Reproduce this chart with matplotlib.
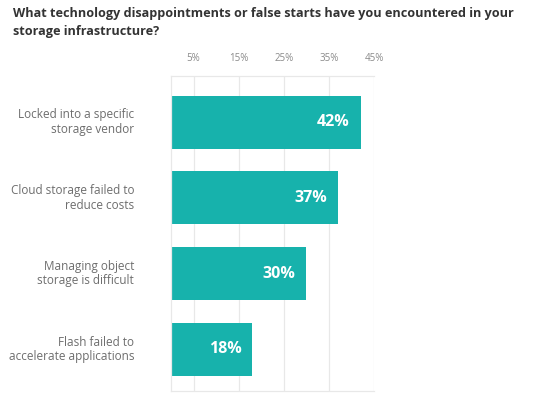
import numpy as np
import matplotlib
matplotlib.use('Agg')
import matplotlib.pyplot as plt

# Données
categories = [
    "Locked into a specific\nstorage vendor",
    "Cloud storage failed to\nreduce costs",
    "Managing object\nstorage is difficult",
    "Flash failed to\naccelerate applications",
]
values = [42, 37, 30, 18]
ticks = [5, 15, 25, 35, 45]
tick_labels = ["5%", "15%", "25%", "35%", "45%"]
title = "What technology disappointments or false starts have you encountered in your\nstorage infrastructure?"

teal = "#17b2ac"
grid_color = "#e8e8e8"

fig = plt.figure(figsize=(5.4, 4.08), dpi=100)
ax = fig.add_axes([0.3167, 0.0417, 0.376, 0.772])

y = np.arange(len(values))
ax.barh(y, values, height=0.7, color=teal, zorder=2)
ax.set_xlim(0, 45)
ax.set_ylim(len(values) - 0.45, -0.61)

ax.set_xticks(ticks)
ax.set_xticklabels(tick_labels, fontsize=7, color="#8a8a8a", family="Open Sans")
ax.xaxis.tick_top()
ax.tick_params(axis='x', length=0, pad=9)
ax.set_yticks([])
ax.grid(axis='x', color=grid_color, linewidth=0.9, zorder=0)

for side in ['right']:
    ax.spines[side].set_visible(False)
for side in ['left', 'top', 'bottom']:
    ax.spines[side].set_color(grid_color)
    ax.spines[side].set_linewidth(0.9)

# Étiquettes des catégories
for yi, cat in zip(y, categories):
    ax.text(-8.2, yi, cat, ha='right', va='center', fontsize=8.5,
            color="#6d6d6d", family="Open Sans", linespacing=1.15)

# Valeurs dans les barres
for yi, v in zip(y, values):
    ax.text(v - 2.4, yi, f"{v}%", ha='right', va='center', fontsize=11.5,
            color="white", fontweight='bold', family="Open Sans")

fig.text(0.024, 0.982, title, ha='left', va='top', fontsize=9.05,
         fontweight='bold', color="#333333", family="Open Sans", linespacing=1.45)

fig.savefig('out.png', dpi=100)
